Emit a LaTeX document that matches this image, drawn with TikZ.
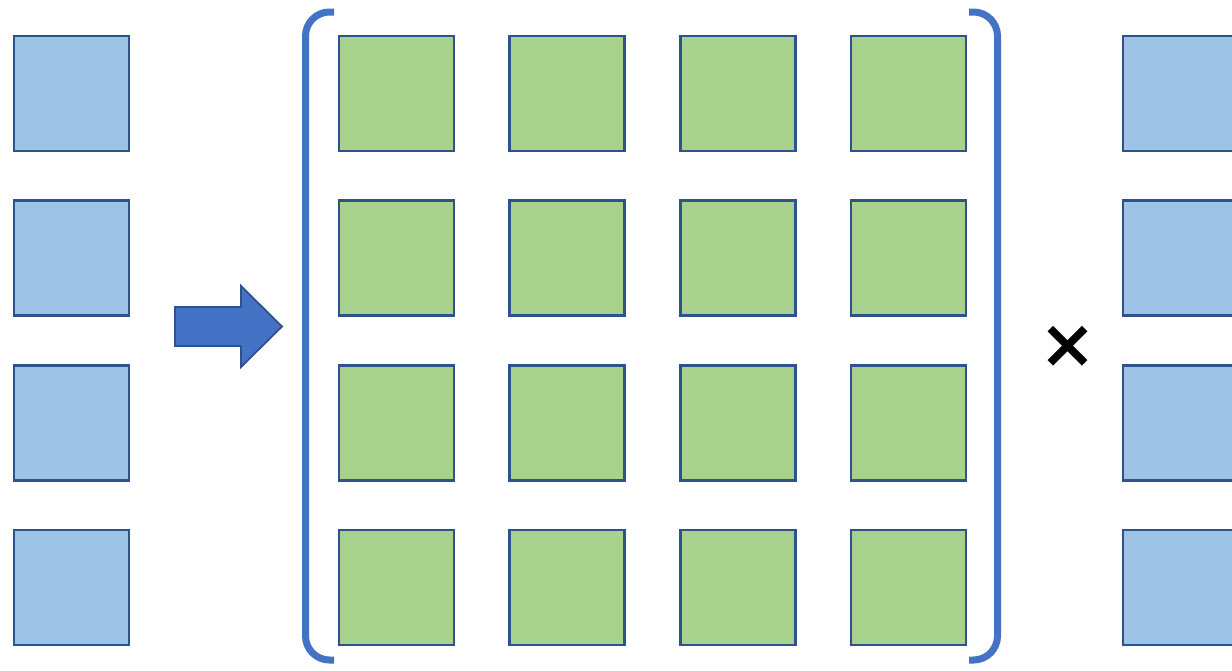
\documentclass[tikz,border=0pt]{standalone}
\usepackage{fontspec}
\newfontfamily\signfont{DejaVu Sans}
\usetikzlibrary{positioning}

\definecolor{cellblue}{HTML}{9DC3E6}
\definecolor{cellgreen}{HTML}{A9D18E}
\definecolor{celledge}{HTML}{2F528F}
\definecolor{accent}{HTML}{4472C4}

\begin{document}
\begin{tikzpicture}[
            x=1pt, y=-1pt,
            cell/.style={rectangle, draw=celledge, line width=2.7pt,
            minimum size=115pt, inner sep=0pt},
            vec/.style={cell, fill=cellblue},
            mat/.style={cell, fill=cellgreen},
            bracket/.style={draw=accent, line width=7pt, rounded corners=24pt},
            bigarrow/.style={fill=accent, draw=celledge, line width=1.8pt, line join=miter}
        ]
            \useasboundingbox (0,0) rectangle (1232,670);

% ----- Eingangsvektor (links) -----
            \node[vec] (v1) at (71.5,93.5) {};
            \node[vec, below=47pt of v1] (v2) {};
            \node[vec, below=47pt of v2] (v3) {};
            \node[vec, below=47pt of v3] (v4) {};

% ----- Matrix -----
            \node[mat] (m11) at (396.5,93.5) {};
            \node[mat, right=53pt of m11] (m12) {};
            \node[mat, right=53pt of m12] (m13) {};
            \node[mat, right=53pt of m13] (m14) {};
            \node[mat, below=47pt of m11] (m21) {};
            \node[mat, right=53pt of m21] (m22) {};
            \node[mat, right=53pt of m22] (m23) {};
            \node[mat, right=53pt of m23] (m24) {};
            \node[mat, below=47pt of m21] (m31) {};
            \node[mat, right=53pt of m31] (m32) {};
            \node[mat, right=53pt of m32] (m33) {};
            \node[mat, right=53pt of m33] (m34) {};
            \node[mat, below=47pt of m31] (m41) {};
            \node[mat, right=53pt of m41] (m42) {};
            \node[mat, right=53pt of m42] (m43) {};
            \node[mat, right=53pt of m43] (m44) {};

% ----- Ausgangsvektor (rechts, angeschnitten) -----
            \node[vec] (w1) at (1180.5,93.5) {};
            \node[vec, below=47pt of w1] (w2) {};
            \node[vec, below=47pt of w2] (w3) {};
            \node[vec, below=47pt of w3] (w4) {};

% Klammern
            \draw[bracket] (334,12) -- (305.5,12) -- (305.5,660) -- (334,660);
            \draw[bracket] (969,12) -- (997.5,12) -- (997.5,660) -- (969,660);

% Pfeil und Malzeichen
            \draw[bigarrow] (175,307) -- (241,307) -- (241,286) -- (282,326.5)
                -- (241,367) -- (241,346) -- (175,346) -- cycle;
            \node[font=\signfont\bfseries\fontsize{68}{68}\selectfont, inner sep=0pt] (times) at (1068,347) {×};

        \end{tikzpicture}
\end{document}
